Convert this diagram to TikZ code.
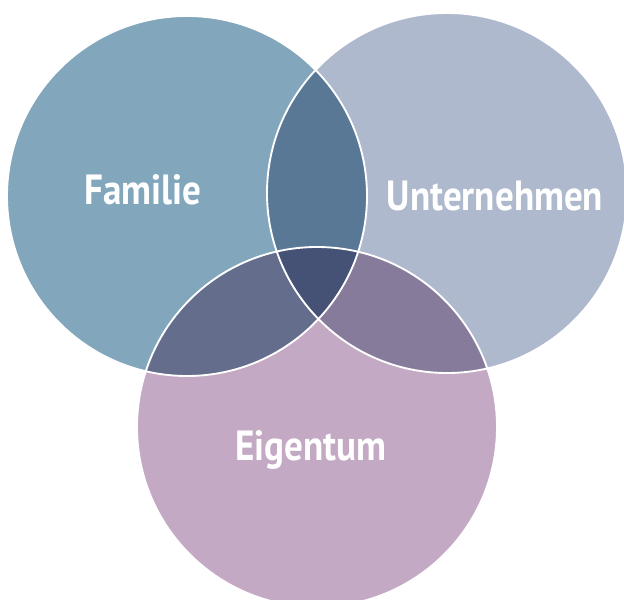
\documentclass[tikz,border=0pt]{standalone}
\usepackage{fontspec}
\newfontfamily\vennfont{PT Sans}[FakeStretch=0.88]
\definecolor{famcol}{RGB}{130,167,189}
\definecolor{untcol}{RGB}{175,185,206}
\definecolor{eigcol}{RGB}{196,169,196}
\definecolor{fucol}{RGB}{88,120,150}
\definecolor{fecol}{RGB}{100,109,140}
\definecolor{uecol}{RGB}{135,123,156}
\definecolor{fuecol}{RGB}{69,81,117}

\begin{document}
\begin{tikzpicture}[x=0.03cm,y=-0.03cm,
  lbl/.style={text=white,font=\vennfont\bfseries\fontsize{36}{36}\selectfont},
  rim/.style={draw=white,line width=1.6pt}]
  \useasboundingbox (0,0) rectangle (624,600);
  \def\rad{180}
  \coordinate (F) at (187,196);
  \coordinate (U) at (447,193);
  \coordinate (E) at (317,427);
  \fill[famcol] (F) circle (\rad);
  \fill[untcol] (U) circle (\rad);
  \fill[eigcol] (E) circle (\rad);
  \begin{scope}
    \clip (F) circle (\rad);
    \fill[fucol] (U) circle (\rad);
    \fill[fecol] (E) circle (\rad);
  \end{scope}
  \begin{scope}
    \clip (U) circle (\rad);
    \fill[uecol] (E) circle (\rad);
    \clip (F) circle (\rad);
    \fill[fuecol] (E) circle (\rad);
  \end{scope}
  \draw[rim] (F) circle (\rad) (U) circle (\rad) (E) circle (\rad);
  \node[lbl] (fam) at (143,190) {Familie};
  \node[lbl] (unt) at (495,196) {Unternehmen};
  \node[lbl] (eig) at (311,450) {Eigentum};
\end{tikzpicture}
\end{document}
